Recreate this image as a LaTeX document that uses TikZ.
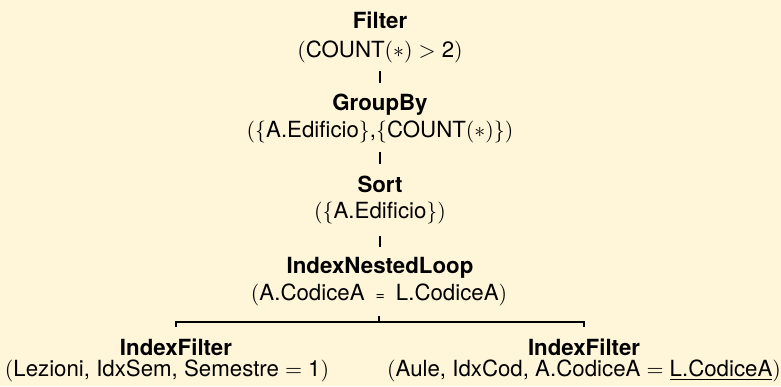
\documentclass[tikz,border=0pt]{standalone}
\usepackage{fontspec}
\setmainfont{TeX Gyre Heros}[Scale=1.06]
\usetikzlibrary{calc}
\definecolor{bgc}{RGB}{255,246,218}
\tikzset{
  title/.style={anchor=base,inner sep=0pt,font=\fontsize{10.5}{12}\selectfont\bfseries},
  args/.style={anchor=base,inner sep=0pt,font=\fontsize{10.5}{12}\selectfont},
  conn/.style={line width=0.9pt,black}
}
\newcommand{\smalleq}{\hspace{5.5pt}{\fontsize{7.5}{8}\selectfont=}\hspace{5.5pt}}
\begin{document}
\begin{tikzpicture}[x=0.5pt,y=-0.5pt]
\fill[bgc] (0,0) rectangle (781,386);
\useasboundingbox (0,0) rectangle (781,386);
\node[title] (f1) at (380,28) {Filter};
\node[args]  (f2) at (380,57) {$($COUNT$(*)>{}$2$)$};
\node[title] (g1) at (380,110) {GroupBy};
\node[args]  (g2) at (380,137) {$(\{$A.Edificio$\}$,$\{$COUNT$(*)\})$};
\node[title] (s1) at (380,192) {Sort};
\node[args]  (s2) at (380,218) {$(\{$A.Edificio$\})$};
\node[title] (n1) at (380,273) {IndexNestedLoop};
\node[args]  (n2) at (379,300) {$($A.CodiceA\smalleq L.CodiceA$)$};
\node[title] (l1) at (176,355) {IndexFilter};
\node[args]  (l2) at (167,376) {$($Lezioni, IdxSem, Semestre${}={}$1$)$};
\node[title] (r1) at (584,355) {IndexFilter};
\node[args]  (r2) at (584,376) {$($Aule, IdxCod, A.CodiceA${}={}$\underline{L.CodiceA}$)$};
\draw[conn] ($(f2.base)+(0,14)$) -- ($(g1.base)+(0,-27)$);
\draw[conn] ($(g2.base)+(0,15)$) -- ($(s1.base)+(0,-28)$);
\draw[conn] ($(s2.base)+(0,18)$) -- ($(n1.base)+(0,-26)$);
\draw[conn] ($(n2.base)+(0,16)$) -- ($(n2.base)+(0,22)$);
\draw[conn] ($(l1.base)+(0,-28)$) |- ($(n2.base)+(0,22)$) -| ($(r1.base)+(0,-28)$);
\end{tikzpicture}
\end{document}
